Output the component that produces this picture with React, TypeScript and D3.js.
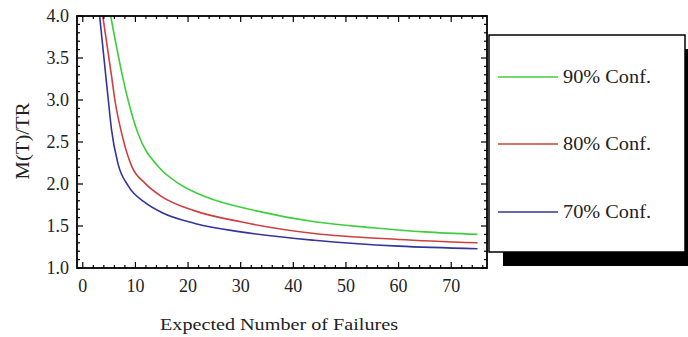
import React, { useRef, useEffect } from "react";
import * as d3 from "d3";

// values
const seriesNames = ["90% Conf.", "80% Conf.", "70% Conf."];
const seriesColors = ["#3ccf3c", "#cf3f3f", "#34349c"];

const failures90 = [5.3, 7.6, 8.6, 10.5, 14.3, 18.1, 23.2, 33, 44, 55, 65, 75];
const ratio90 = [4.0, 3.27, 3.0, 2.6, 2.21, 2.01, 1.85, 1.68, 1.55, 1.48, 1.43, 1.4];

const failures80 = [3.8, 5.5, 6.1, 7.4, 9.3, 11.8, 15, 21.3, 30, 44, 60, 75];
const ratio80 = [4.0, 3.27, 3.0, 2.6, 2.21, 2.01, 1.85, 1.68, 1.55, 1.41, 1.34, 1.3];

const failures70 = [3.2, 4.4, 4.85, 5.45, 6.7, 8.6, 11.8, 15, 21.3, 30, 44, 60, 75];
const ratio70 = [4.0, 3.27, 3.0, 2.65, 2.24, 1.98, 1.78, 1.66, 1.53, 1.43, 1.33, 1.26, 1.23];

const xTicks = [0, 10, 20, 30, 40, 50, 60, 70];
const yTicks = [1.0, 1.5, 2.0, 2.5, 3.0, 3.5, 4.0];

const WIDTH = 688;
const HEIGHT = 337;

const App: React.FC = () => {
	const svgRef = useRef<SVGSVGElement>(null);

	useEffect(() => {
		const svg = d3.select(svgRef.current);
		svg.selectAll("*").remove();

		const left = 77, right = 487, top = 16, bottom = 268;
		const font = "'Liberation Serif', 'Times New Roman', serif";

		const xScale = d3.scaleLinear().domain([-1.1, 76.8]).range([left, right]);
		const yScale = d3.scaleLinear().domain([1, 4]).range([bottom, top]);

		svg.append("rect").attr("width", WIDTH).attr("height", HEIGHT).attr("fill", "white");

		// clip for curves
		svg.append("defs").append("clipPath").attr("id", "plotClip")
			.append("rect").attr("x", left).attr("y", top)
			.attr("width", right - left).attr("height", bottom - top);

		const series = [
			{ xs: failures90, ys: ratio90 },
			{ xs: failures80, ys: ratio80 },
			{ xs: failures70, ys: ratio70 },
		];

		const line = d3.line<[number, number]>()
			.x((d) => xScale(d[0]))
			.y((d) => yScale(d[1]))
			.curve(d3.curveMonotoneX);

		const curves = svg.append("g").attr("clip-path", "url(#plotClip)");
		series.forEach((s, i) => {
			const pts = s.xs.map((x, j) => [x, s.ys[j]] as [number, number]);
			curves.append("path")
				.attr("d", line(pts))
				.attr("fill", "none")
				.attr("stroke", seriesColors[i])
				.attr("stroke-width", 1.6);
		});

		// frame ticks (inward on all four sides)
		const xMinor = d3.range(0, 77, 2).filter((v) => v % 10 !== 0);
		const yMinor = d3.range(1, 4.001, 0.1).filter((v) => Math.abs(v * 2 - Math.round(v * 2)) > 0.01);
		const ticks = svg.append("g").attr("stroke", "black").attr("stroke-width", 1.2);

		[...xTicks.map((v) => [v, 6]), ...xMinor.map((v) => [v, 3])].forEach(([v, len]) => {
			const x = xScale(v);
			ticks.append("line").attr("x1", x).attr("x2", x).attr("y1", bottom).attr("y2", bottom - len);
			ticks.append("line").attr("x1", x).attr("x2", x).attr("y1", top).attr("y2", top + len);
		});
		[...yTicks.map((v) => [v, 6]), ...yMinor.map((v) => [v, 3])].forEach(([v, len]) => {
			const y = yScale(v);
			ticks.append("line").attr("x1", left).attr("x2", left + len).attr("y1", y).attr("y2", y);
			ticks.append("line").attr("x1", right).attr("x2", right - len).attr("y1", y).attr("y2", y);
		});

		svg.append("rect")
			.attr("x", left).attr("y", top)
			.attr("width", right - left).attr("height", bottom - top)
			.attr("fill", "none").attr("stroke", "black").attr("stroke-width", 1.8);

		// tick labels
		svg.append("g").selectAll("text").data(xTicks).enter().append("text")
			.attr("x", (d) => xScale(d))
			.attr("y", bottom + 24)
			.attr("text-anchor", "middle")
			.attr("font-family", font).attr("font-size", 18).attr("fill", "#222")
			.text((d) => String(d));

		svg.append("g").selectAll("text").data(yTicks).enter().append("text")
			.attr("x", left - 8)
			.attr("y", (d) => yScale(d) + 6)
			.attr("text-anchor", "end")
			.attr("font-family", font).attr("font-size", 18).attr("fill", "#222")
			.text((d) => d.toFixed(1));

		// axis titles
		svg.append("text")
			.attr("x", 279).attr("y", 330)
			.attr("text-anchor", "middle")
			.attr("font-family", font).attr("font-size", 17).attr("fill", "#222")
			.attr("textLength", 238).attr("lengthAdjust", "spacingAndGlyphs")
			.text("Expected Number of Failures");

		svg.append("text")
			.attr("transform", `translate(29,141) rotate(-90)`)
			.attr("text-anchor", "middle")
			.attr("font-family", font).attr("font-size", 18).attr("fill", "#222")
			.attr("textLength", 77).attr("lengthAdjust", "spacingAndGlyphs")
			.text("M(T)/TR");

		// legend with drop shadow
		const lg = { x: 489, y: 35, w: 196, h: 217 };
		svg.append("rect").attr("x", lg.x + 14).attr("y", lg.y + 14)
			.attr("width", lg.w).attr("height", lg.h).attr("fill", "black");
		svg.append("rect").attr("x", lg.x).attr("y", lg.y)
			.attr("width", lg.w).attr("height", lg.h)
			.attr("fill", "white").attr("stroke", "black").attr("stroke-width", 1.5);

		const legendY = [77, 144, 212];
		seriesNames.forEach((name, i) => {
			svg.append("line")
				.attr("x1", 498).attr("x2", 558)
				.attr("y1", legendY[i]).attr("y2", legendY[i])
				.attr("stroke", seriesColors[i]).attr("stroke-width", 1.6);
			svg.append("text")
				.attr("x", 563).attr("y", legendY[i] + 6)
				.attr("font-family", font).attr("font-size", 18).attr("fill", "#222")
				.attr("textLength", 88).attr("lengthAdjust", "spacingAndGlyphs")
				.text(name);
		});
	}, []);

	return (
		<svg
			ref={svgRef}
			width={WIDTH}
			height={HEIGHT}
			style={{ position: "absolute", left: 0, top: 0, display: "block" }}
		/>
	);
};

export default App;
